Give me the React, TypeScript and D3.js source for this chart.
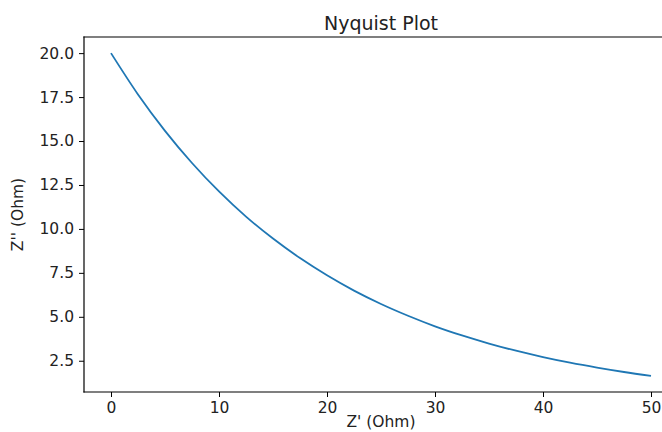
import React, { useEffect, useRef } from "react";
import * as d3 from "d3";

// Z' (real part) samples, Ohm
const zReal = [0, 2.5, 5, 7.5, 10, 12.5, 15, 17.5, 20, 22.5, 25, 27.5, 30, 32.5, 35, 37.5, 40, 42.5, 45, 47.5, 50];
// Z'' (imaginary part), Ohm
const zImag = [20.0, 17.65, 15.58, 13.75, 12.13, 10.7, 9.45, 8.34, 7.36, 6.49, 5.73, 5.06, 4.46, 3.94, 3.48, 3.07, 2.71, 2.39, 2.11, 1.86, 1.64];

const xTicks = [0, 10, 20, 30, 40, 50];
const yTicks = [2.5, 5.0, 7.5, 10.0, 12.5, 15.0, 17.5, 20.0];

const W = 662, H = 432;

export default function App() {
  const ref = useRef<SVGSVGElement>(null);

  useEffect(() => {
    const svg = d3.select(ref.current);
    svg.selectAll("*").remove();

    const left = 84, right = 678, top = 37, bottom = 392;
    const font = "DejaVu Sans, sans-serif";

    // matplotlib-style 5% margins
    const xMin = d3.min(zReal)!, xMax = d3.max(zReal)!;
    const yMin = d3.min(zImag)!, yMax = d3.max(zImag)!;
    const xPad = (xMax - xMin) * 0.05, yPad = (yMax - yMin) * 0.05;

    const x = d3.scaleLinear().domain([xMin - xPad, xMax + xPad]).range([left, right]);
    const y = d3.scaleLinear().domain([yMin - yPad, yMax + yPad]).range([bottom, top]);

    const data = zReal.map((d, i) => [d, zImag[i]] as [number, number]);

    const line = d3.line<[number, number]>()
      .x(d => x(d[0]))
      .y(d => y(d[1]))
      .curve(d3.curveMonotoneX);

    svg.append("path")
      .datum(data)
      .attr("d", line)
      .attr("fill", "none")
      .attr("stroke", "#1f77b4")
      .attr("stroke-width", 1.8);

    // spines: top, left, bottom (right one is outside the picture)
    const spines = [
      [left, top, right, top],
      [left, top, left, bottom],
      [left, bottom, right, bottom],
    ];
    svg.selectAll(".spine")
      .data(spines)
      .enter().append("line")
      .attr("class", "spine")
      .attr("x1", d => d[0]).attr("y1", d => d[1])
      .attr("x2", d => d[2]).attr("y2", d => d[3])
      .attr("stroke", "#000").attr("stroke-width", 1.2)
      .attr("stroke-linecap", "square");

    const xAxis = svg.append("g")
      .attr("transform", "translate(0," + bottom + ")")
      .call(d3.axisBottom(x).tickValues(xTicks).tickSize(5).tickPadding(5).tickFormat(d3.format("d")));
    xAxis.select(".domain").remove();

    const yAxis = svg.append("g")
      .attr("transform", "translate(" + left + ",0)")
      .call(d3.axisLeft(y).tickValues(yTicks).tickSize(5).tickPadding(5).tickFormat(d3.format(".1f")));
    yAxis.select(".domain").remove();

    svg.selectAll(".tick text")
      .attr("font-family", font)
      .attr("font-size", 15.5)
      .attr("fill", "#222");
    svg.selectAll(".tick line").attr("stroke", "#000");

    svg.append("text")
      .attr("x", (left + right) / 2)
      .attr("y", 30)
      .attr("text-anchor", "middle")
      .attr("font-family", font)
      .attr("font-size", 19)
      .attr("fill", "#222")
      .text("Nyquist Plot");

    svg.append("text")
      .attr("x", (left + right) / 2)
      .attr("y", 427)
      .attr("text-anchor", "middle")
      .attr("font-family", font)
      .attr("font-size", 15.5)
      .attr("fill", "#222")
      .text("Z' (Ohm)");

    svg.append("text")
      .attr("transform", "translate(23," + (top + bottom) / 2 + ") rotate(-90)")
      .attr("text-anchor", "middle")
      .attr("font-family", font)
      .attr("font-size", 15.5)
      .attr("fill", "#222")
      .text("Z'' (Ohm)");
  }, []);

  return (
    <svg ref={ref} width={W} height={H}
      style={{ position: "absolute", left: 0, top: 0, background: "#fff" }} />
  );
}
